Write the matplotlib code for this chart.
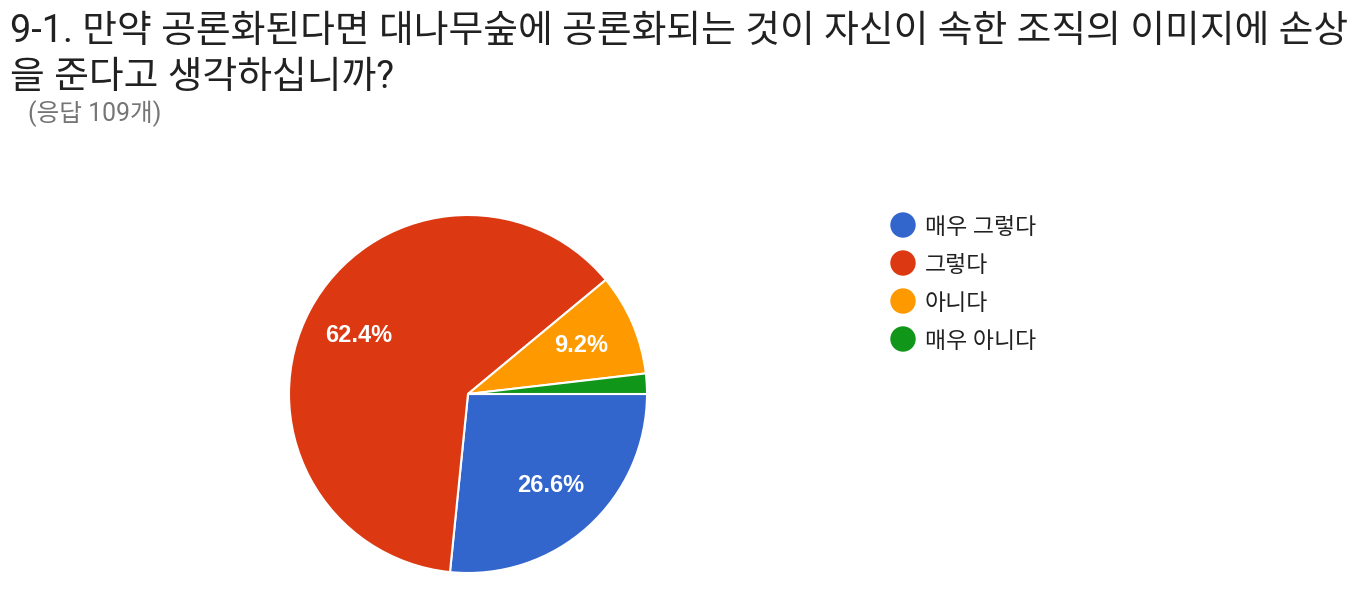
import matplotlib
matplotlib.use("Agg")
import matplotlib.pyplot as plt
from matplotlib.patches import Ellipse

plt.rcParams['font.family'] = ['Roboto', 'Noto Sans CJK KR', 'DejaVu Sans']

title_lines = ["9-1. 만약 공론화된다면 대나무숲에 공론화되는 것이 자신이 속한 조직의 이미지에 손상",
               "을 준다고 생각하십니까?"]
subtitle = "(응답 109개)"
categories = ["매우 그렇다", "그렇다", "아니다", "매우 아니다"]
values = [29, 68, 10, 2]
colors = ["#3366cc", "#dc3912", "#ff9900", "#109618"]

W, H = 1372, 600
fig = plt.figure(figsize=(W / 100, H / 100), dpi=100)
fig.patch.set_facecolor("white")

fig.text(10 / W, 1 - 42 / H, title_lines[0], fontsize=27.2, color="#212121", va="baseline", ha="left")
fig.text(10 / W, 1 - 88 / H, title_lines[1], fontsize=27.2, color="#212121", va="baseline", ha="left")
fig.text(28 / W, 1 - 121 / H, subtitle, fontsize=17.8, color="#757575", va="baseline", ha="left")

cx, cy, r = 468, 394, 179
ax = fig.add_axes([(cx - r) / W, (H - cy - r) / H, 2 * r / W, 2 * r / H])


def fmt(p):
    return f"{p:.1f}%" if p >= 5 else ""


wedges, texts, autotexts = ax.pie(values, colors=colors, startangle=0, counterclock=False,
                                  radius=1, autopct=fmt, pctdistance=0.69,
                                  wedgeprops=dict(edgecolor="white", linewidth=1.5),
                                  textprops=dict(color="white", fontsize=17, fontweight="bold"))
for t in autotexts:
    t.set_family(['Arial', 'Liberation Sans', 'DejaVu Sans'])
ax.set_xlim(-1, 1)
ax.set_ylim(-1, 1)
ax.axis("off")

# legend: colored circles with labels
lx_c, lx_t = 903, 925
ly0, ldy = 225, 38
for i, (c, lab) in enumerate(zip(colors, categories)):
    y = ly0 + i * ldy
    fig.text(lx_t / W, 1 - y / H, lab, fontsize=16.5, color="#212121", va="center_baseline", ha="left")
    fig.add_artist(Ellipse((lx_c / W, 1 - y / H), 24 / W, 24 / H, transform=fig.transFigure,
                           color=c))

fig.savefig("out.png", dpi=100, facecolor="white")
